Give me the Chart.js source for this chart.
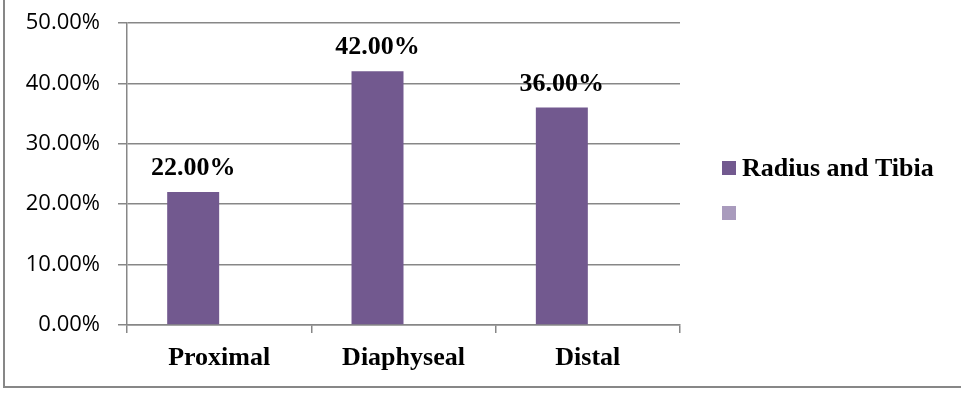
<!DOCTYPE html>
<html>
<head>
<meta charset="utf-8">
<script src="https://cdn.jsdelivr.net/npm/chart.js@4.4.1/dist/chart.umd.min.js"></script>
<style>
  html, body { margin: 0; padding: 0; background: #ffffff; }
  #wrap { position: relative; width: 961px; height: 394px; }
</style>
</head>
<body>
<div id="wrap"><canvas id="chart" width="961" height="394"></canvas></div>
<script>
// Fracture site distribution
const categories = ['Proximal', 'Diaphyseal', 'Distal'];
const radiusTibia = [22, 42, 36];
const secondSeries = [null, null, null];
const seriesLabels = ['Radius and Tibia', ''];
const yTicks = [0, 10, 20, 30, 40, 50];

const serif = "'Liberation Serif', 'Times New Roman', serif";
const sans = "'Open Sans', 'Liberation Sans', sans-serif";
const gridGray = '#878787';

// Outer frame around the chart block
const framePlugin = {
  id: 'frame',
  beforeDraw(chart) {
    const ctx = chart.ctx;
    ctx.save();
    ctx.strokeStyle = gridGray;
    ctx.lineWidth = 2;
    ctx.strokeRect(4, -10, chart.width + 20, 397);
    ctx.restore();
  }
};

// Bold percentage labels above each bar
const valueLabels = {
  id: 'valueLabels',
  afterDatasetsDraw(chart) {
    const ctx = chart.ctx;
    const meta = chart.getDatasetMeta(0);
    ctx.save();
    ctx.font = 'bold 26px ' + serif;
    ctx.fillStyle = '#000';
    ctx.textAlign = 'center';
    ctx.textBaseline = 'alphabetic';
    meta.data.forEach((bar, i) => {
      const v = chart.data.datasets[0].data[i];
      if (v == null) return;
      ctx.fillText(v.toFixed(2) + '%', bar.x, bar.y - 17);
    });
    ctx.restore();
  }
};

// Series key on the right
const sideLegend = {
  id: 'sideLegend',
  afterDraw(chart) {
    const ctx = chart.ctx;
    const x = chart.chartArea.right + 42;
    ctx.save();
    chart.data.datasets.forEach((ds, i) => {
      const cy = 168 + i * 45;
      ctx.fillStyle = ds.backgroundColor;
      ctx.fillRect(x, cy - 7, 14, 14);
      ctx.font = 'bold 26px ' + serif;
      ctx.textAlign = 'left';
      ctx.textBaseline = 'alphabetic';
      ctx.fillStyle = '#000';
      ctx.fillText(ds.label, x + 20, cy + 8);
    });
    ctx.restore();
  }
};

new Chart(document.getElementById('chart'), {
  type: 'bar',
  data: {
    labels: categories,
    datasets: [
      { label: seriesLabels[0], data: radiusTibia, backgroundColor: '#72598F',
        categoryPercentage: 0.564, barPercentage: 1.0 },
      { label: seriesLabels[1], data: secondSeries, backgroundColor: '#A99BBD',
        categoryPercentage: 0.564, barPercentage: 1.0 }
    ]
  },
  options: {
    responsive: false,
    animation: false,
    layout: { padding: { left: 0, right: 281, top: 23, bottom: 0 } },
    plugins: {
      legend: { display: false },
      tooltip: { enabled: false }
    },
    scales: {
      x: {
        afterFit(scale) { scale.height = 69; },
        grid: { offset: true, drawOnChartArea: false, drawTicks: true, tickLength: 8,
                color: gridGray, lineWidth: 1.5 },
        border: { display: true, color: gridGray, width: 1.5 },
        ticks: { color: '#000', padding: 10, font: { family: serif, size: 26, weight: 'bold' } }
      },
      y: {
        min: 0, max: 50,
        afterFit(scale) {
          scale.width = 127;
          scale.paddingTop = 0;
          scale.paddingBottom = 0;
        },
        afterBuildTicks(scale) { scale.ticks = yTicks.map(v => ({ value: v })); },
        grid: { drawTicks: true, tickLength: 9, color: gridGray, lineWidth: 1.5 },
        border: { display: true, color: gridGray, width: 1.5 },
        ticks: {
          color: '#000', padding: 18,
          font: { family: sans, size: 22 },
          callback: v => v.toFixed(2) + '%'
        }
      }
    }
  },
  plugins: [framePlugin, valueLabels, sideLegend]
});
</script>
</body>
</html>
